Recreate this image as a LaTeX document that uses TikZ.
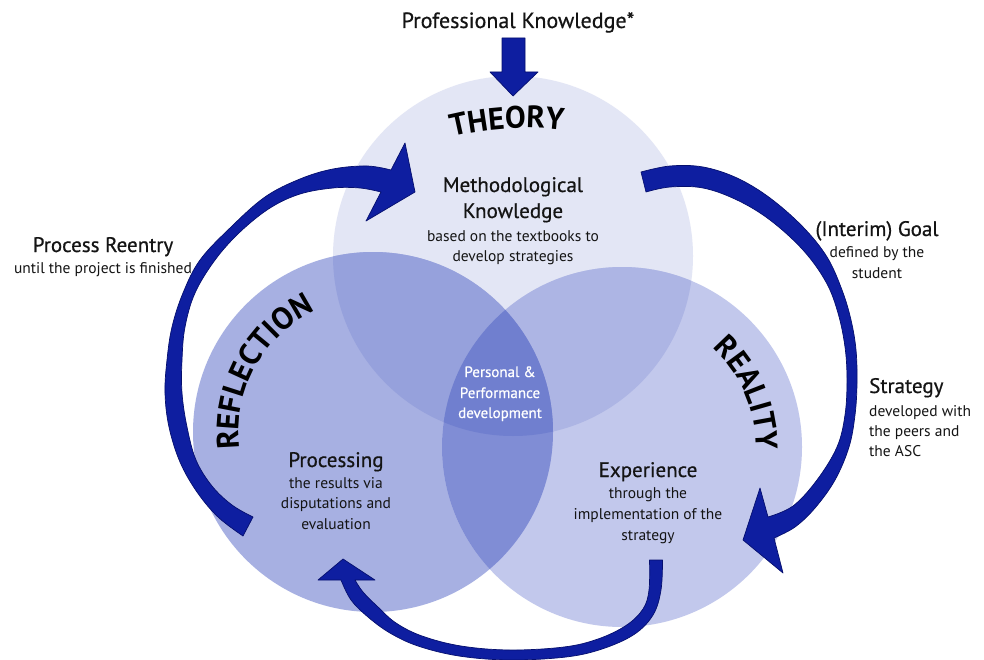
\documentclass[tikz,border=0pt]{standalone}
\usepackage{fontspec}
\setmainfont{PT Sans}
\newfontfamily\hfont[FakeBold=0.6]{PT Sans}
\usetikzlibrary{decorations.text}
\definecolor{cT}{RGB}{227,230,245}
\definecolor{cF}{RGB}{167,176,226}
\definecolor{cR}{RGB}{194,200,236}
\definecolor{cTF}{RGB}{150,161,220}
\definecolor{cTR}{RGB}{173,181,228}
\definecolor{cFR}{RGB}{128,141,213}
\definecolor{cTFR}{RGB}{112,127,207}
\definecolor{arrowblue}{RGB}{14,30,160}
\definecolor{arrowdark}{RGB}{5,15,110}
\definecolor{txt}{RGB}{20,20,20}
\tikzset{
  blockarrow/.style={fill=arrowblue, draw=arrowdark, line width=0.7pt, line join=round},
  hdtxt/.style={inner sep=0pt, anchor=base, text=txt, font=\hfont\fontsize{21}{24}\selectfont},
  sbtxt/.style={inner sep=0pt, anchor=base, text=txt, font=\fontsize{15.5}{18}\selectfont},
  pdtxt/.style={inner sep=0pt, anchor=base, text=white, font=\hfont\fontsize{15}{18}\selectfont},
}
\newcommand{\arcfont}{\fontsize{31}{31}\selectfont\bfseries}
\begin{document}
\begin{tikzpicture}[x=1pt,y=-1pt]
\useasboundingbox (0,0) rectangle (984,660);
\fill[white] (0,0) rectangle (984,660);
\coordinate (T) at (513,256);
\coordinate (F) at (373,432);
\coordinate (R) at (622,447);
% circles
\fill[cT] (T) circle[radius=180];
\fill[cF] (F) circle[radius=180];
\fill[cR] (R) circle[radius=180];
\begin{scope}
  \clip (T) circle[radius=180];
  \fill[cTF] (F) circle[radius=180];
  \fill[cTR] (R) circle[radius=180];
\end{scope}
\begin{scope}
  \clip (F) circle[radius=180];
  \fill[cFR] (R) circle[radius=180];
\end{scope}
\begin{scope}
  \clip (T) circle[radius=180];
  \clip (F) circle[radius=180];
  \fill[cTFR] (R) circle[radius=180];
\end{scope}
% arc labels
\path[decorate, decoration={text along path, text={|\arcfont|THEORY}, text align=center}]
  (525,428) ++(246.6:300) arc[start angle=246.6, end angle=286.6, radius=300];
\path[decorate, decoration={text along path, text={|\arcfont|REFLECTION}, text align=center}]
  (F) ++(138.6:134) arc[start angle=138.6, end angle=278.6, radius=134];
\path[decorate, decoration={text along path, text={|\arcfont|REALITY}, text align=center}]
  (R) ++(-93.2:134) arc[start angle=-93.2, end angle=46.8, radius=134];
% top arrow
\filldraw[blockarrow] (502,38) -- (525,38) -- (525,72) -- (538,72) -- (513,96) -- (490,72) -- (502,72) -- cycle;
% left arrow (process reentry)
\filldraw[blockarrow] plot[smooth, tension=0.6] coordinates {(243,536) (218,517) (197,492) (180,462) (169,427) (165,393) (167,360) (172,327) (183,293) (200,260) (230,228) (265,197) (300,179) (333,169) (367,166) (391,170)}
  -- (405,143) -- (415,192) -- (366,221)
  -- plot[smooth, tension=0.6] coordinates {(381,192) (360,188) (333,188) (300,194) (270,208) (240,232) (215,260) (195,293) (185,327) (182,360) (182,393) (187,427) (196,460) (212,486) (232,505) (253,517)}
  -- cycle;
% right arrow (goal / strategy)
\filldraw[blockarrow] plot[smooth, tension=0.6] coordinates {(641,172) (670,166) (703,167) (737,178) (770,198) (803,227) (827,257) (842,290) (851,320) (856,350) (857,383) (855,415) (849,447) (835,480) (815,508) (795,527) (774,538)}
  -- (783,573) -- (743,540) -- (760,488)
  -- plot[smooth, tension=0.6] coordinates {(768,517) (793,506) (817,480) (837,447) (845,415) (847,380) (845,347) (838,313) (826,282) (803,250) (770,220) (737,200) (703,188) (670,187) (646,192)}
  -- cycle;
% bottom arrow
\filldraw[blockarrow] plot[smooth, tension=0.6] coordinates {(662.5,560) (661,590) (653,615) (634,634.5) (602,649) (566,657) (510,660) (459,656) (418,646) (390,633) (368,617) (351,600) (341,580)}
  -- (318,580) -- (343,559) -- (375,580)
  -- plot[smooth, tension=0.6] coordinates {(355,580) (363,592) (378,607) (396,623) (422,636) (461,646) (510,650) (564,647) (598,639) (626,625.5) (643,609) (649,590) (649.5,560)}
  -- cycle;
% texts
\node[hdtxt, font=\hfont\fontsize{22}{24}\selectfont] (pk) at (518,28) {Professional Knowledge*};
\node[hdtxt] (mk1) at (513,192) {Methodological};
\node[hdtxt] (mk2) at (513,218) {Knowledge};
\node[sbtxt] (mk3) at (513,241) {based on the textbooks to};
\node[sbtxt] (mk4) at (513,261) {develop strategies};
\node[hdtxt] (pr1) at (103,252) {Process Reentry};
\node[sbtxt] (pr2) at (103,273) {until the project is finished};
\node[hdtxt] (ig1) at (877,236) {(Interim) Goal};
\node[sbtxt] (ig2) at (877,258) {defined by the};
\node[sbtxt] (ig3) at (877,278) {student};
\node[hdtxt, anchor=base west] (st1) at (869,393) {Strategy};
\node[sbtxt, anchor=base west] (st2) at (869,416) {developed with};
\node[sbtxt, anchor=base west] (st3) at (869,436) {the peers and};
\node[sbtxt, anchor=base west] (st4) at (869,456) {the ASC};
\node[hdtxt] (pc1) at (336,467) {Processing};
\node[sbtxt] (pc2) at (336,488) {the results via};
\node[sbtxt] (pc3) at (336,508) {disputations and};
\node[sbtxt] (pc4) at (336,529) {evaluation};
\node[hdtxt] (ex1) at (648,477) {Experience};
\node[sbtxt] (ex2) at (648,498) {through the};
\node[sbtxt] (ex3) at (648,519) {implementation of the};
\node[sbtxt] (ex4) at (648,540) {strategy};
\node[pdtxt] (pd1) at (500,377) {Personal \&};
\node[pdtxt] (pd2) at (500,398) {Performance};
\node[pdtxt] (pd3) at (500,418) {development};
\end{tikzpicture}
\end{document}
